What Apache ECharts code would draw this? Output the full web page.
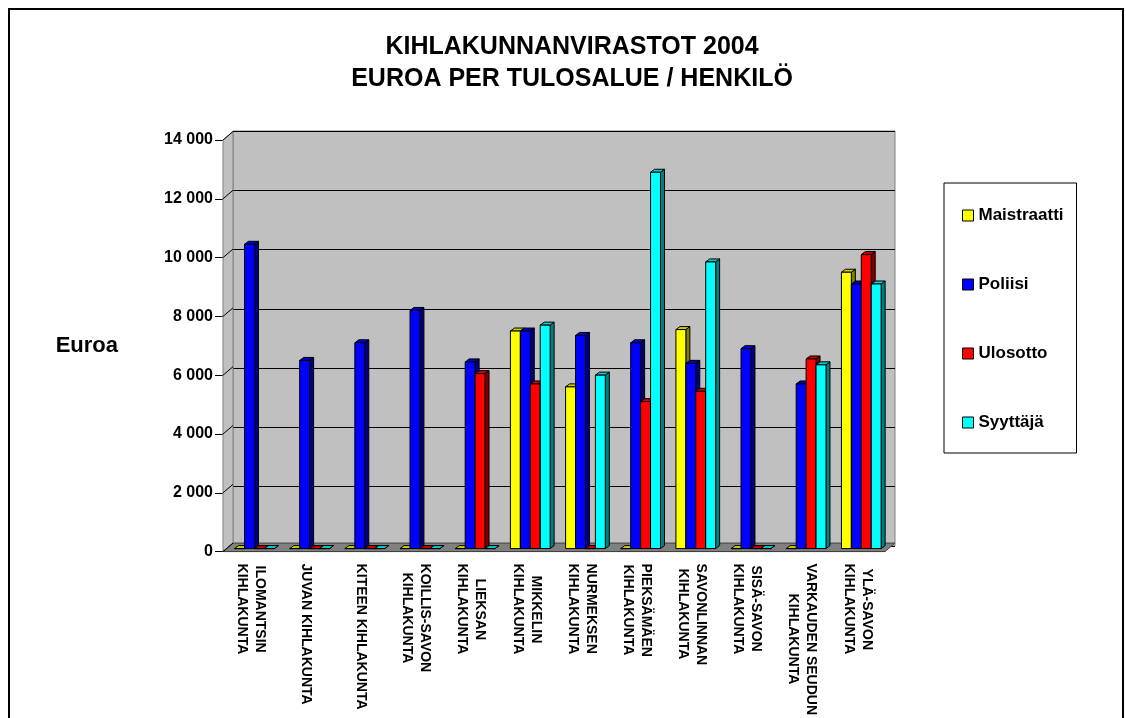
<!DOCTYPE html>
<html>
<head>
<meta charset="utf-8">
<script src="https://cdn.jsdelivr.net/npm/echarts@6/dist/echarts.min.js"></script>
<style>
  html, body { margin: 0; padding: 0; background: #fff; }
  #chart { width: 1126px; height: 718px; }
</style>
</head>
<body>
<div id="chart"></div>
<script>
const categories = [
  'ILOMANTSIN\nKIHLAKUNTA', 'JUVAN KIHLAKUNTA', 'KITEEN KIHLAKUNTA', 'KOILLIS-SAVON\nKIHLAKUNTA',
  'LIEKSAN\nKIHLAKUNTA', 'MIKKELIN\nKIHLAKUNTA', 'NURMEKSEN\nKIHLAKUNTA', 'PIEKSÄMÄEN\nKIHLAKUNTA',
  'SAVONLINNAN\nKIHLAKUNTA', 'SISÄ-SAVON\nKIHLAKUNTA', 'VARKAUDEN SEUDUN\nKIHLAKUNTA', 'YLÄ-SAVON\nKIHLAKUNTA'
];
const seriesNames = ['Maistraatti', 'Poliisi', 'Ulosotto', 'Syyttäjä'];
const maistraatti = [0, 0, 0, 0, 0, 7400, 5500, 0, 7450, 0, 0, 9400];
const poliisi = [10350, 6400, 7000, 8100, 6350, 7400, 7250, 7000, 6300, 6800, 5600, 9000];
const ulosotto = [0, 0, 0, 0, 5950, 5600, 0, 5000, 5350, 0, 6450, 10000];
const syyttaja = [0, 0, 0, 0, 0, 7600, 5900, 12800, 9750, 0, 6250, 9000];
const yMax = 14000;
const yStep = 2000;

const FONT = "'Liberation Sans', Arial, sans-serif";
// front, top, side colours for the 3D look
const colors = [
  ['#ffff00', '#cccc00', '#808000'],
  ['#0000ff', '#0000cc', '#000080'],
  ['#ff0000', '#cc0000', '#800000'],
  ['#00ffff', '#00cccc', '#008080']
];
const values = [maistraatti, poliisi, ulosotto, syyttaja];

const chart = echarts.init(document.getElementById('chart'));

function bar3d(sIdx) {
  return function (params, api) {
    const idx = api.value(0);
    const v = api.value(1);
    const base = api.coord([idx, 0]);
    const top = api.coord([idx, v]);
    const bw = api.size([1, 0])[0];
    const w = bw * 0.18;
    const x0 = base[0] - bw * 0.29 + sIdx * w;
    const y0 = base[1] - 3;
    const y1 = top[1] - 3;
    const dx = 4, dy = 3;
    const c = colors[sIdx];
    return {
      type: 'group',
      children: [
        { type: 'polygon', shape: { points: [[x0 + w, y0], [x0 + w + dx, y0 - dy], [x0 + w + dx, y1 - dy], [x0 + w, y1]] },
          style: { fill: c[2], stroke: '#000', lineWidth: 1 } },
        { type: 'polygon', shape: { points: [[x0, y1], [x0 + dx, y1 - dy], [x0 + w + dx, y1 - dy], [x0 + w, y1]] },
          style: { fill: c[1], stroke: '#000', lineWidth: 1 } },
        { type: 'rect', shape: { x: x0, y: y1, width: w, height: y0 - y1 },
          style: { fill: c[0], stroke: '#000', lineWidth: 1 } }
      ]
    };
  };
}

const fmt = v => String(v).replace(/\B(?=(\d{3})+(?!\d))/g, ' ');

// centre the lines of each rotated category label by padding the shorter one
const ctx = document.createElement('canvas').getContext('2d');
ctx.font = "bold 14px 'Liberation Sans', Arial, sans-serif";
const rich = {};
function labelFmt(v) {
  const lines = v.split('\n');
  const ws = lines.map(l => ctx.measureText(l).width);
  const maxW = Math.max.apply(null, ws);
  return lines.map((l, i) => {
    const p = Math.round((maxW - ws[i]) / 2);
    const key = 'p' + p;
    if (!rich[key]) {
      rich[key] = { padding: [0, 0, 0, p], fontFamily: FONT, fontSize: 14, fontWeight: 'bold', color: '#000', lineHeight: 18 };
    }
    return '{' + key + '|' + l + '}';
  }).join('\n');
}
const labelTexts = categories.map(labelFmt);

chart.setOption({
  animation: false,
  title: {
    text: 'KIHLAKUNNANVIRASTOT 2004\nEUROA PER TULOSALUE / HENKILÖ',
    left: 567, top: 26, textAlign: 'center',
    textStyle: { fontFamily: FONT, fontSize: 25, fontWeight: 'bold', color: '#000', lineHeight: 32 }
  },
  legend: {
    orient: 'vertical',
    left: 944, top: 183,
    backgroundColor: '#fff', borderColor: '#000', borderWidth: 1,
    padding: [24, 13, 22, 18],
    itemGap: 52, itemWidth: 11, itemHeight: 11,
    icon: 'rect',
    textStyle: { fontFamily: FONT, fontSize: 17, fontWeight: 'bold', color: '#000', lineHeight: 16 },
    data: seriesNames.map((n, i) => ({ name: n, itemStyle: { color: colors[i][0], borderColor: '#000', borderWidth: 1 } }))
  },
  grid: [
    { left: 223, right: 241, top: 140, bottom: 163 },
    { left: 233, right: 231, top: 131, bottom: 172, show: true, backgroundColor: '#c0c0c0', borderColor: '#808080', borderWidth: 1 }
  ],
  xAxis: [
    {
      type: 'category', gridIndex: 0, data: categories,
      axisLine: { lineStyle: { color: '#000', width: 1 } },
      axisTick: { length: 8, lineStyle: { color: '#000' } },
      axisLabel: {
        rotate: -90, margin: 12, interval: 0,
        formatter: (v, i) => labelTexts[i],
        rich: rich
      }
    },
    { type: 'category', gridIndex: 1, data: categories, show: false }
  ],
  yAxis: [
    {
      type: 'value', gridIndex: 0, min: 0, max: yMax, interval: yStep,
      name: 'Euroa', nameLocation: 'middle', nameRotate: 0, nameGap: 105,
      nameTextStyle: { fontFamily: FONT, fontSize: 22, fontWeight: 'bold', color: '#000' },
      axisLine: { show: true, lineStyle: { color: '#000' } },
      axisTick: { show: true, length: 8, lineStyle: { color: '#000' } },
      axisLabel: { margin: 10, formatter: fmt, fontFamily: FONT, fontSize: 16, fontWeight: 'bold', color: '#000' },
      splitLine: { show: false }
    },
    {
      type: 'value', gridIndex: 1, min: 0, max: yMax, interval: yStep,
      axisLine: { show: false }, axisTick: { show: false }, axisLabel: { show: false },
      splitLine: { show: true, lineStyle: { color: '#000', width: 1 } }
    }
  ],
  series: values.map((vals, i) => ({
    name: seriesNames[i],
    type: 'custom',
    xAxisIndex: 0, yAxisIndex: 0,
    itemStyle: { color: colors[i][0] },
    renderItem: bar3d(i),
    encode: { x: 0, y: 1 },
    data: vals.map((v, j) => [j, v])
  }))
});

// walls, floor and frame of the 3D box, placed from the axis scales
const bandW = chart.getModel().getComponent('xAxis', 0).axis.getBandWidth();
const fx0 = chart.convertToPixel({ xAxisIndex: 0 }, 0) - bandW / 2;
const fx1 = fx0 + bandW * categories.length;
const fyTop = chart.convertToPixel({ yAxisIndex: 0 }, yMax);
const fyBot = chart.convertToPixel({ yAxisIndex: 0 }, 0);
const ddx = 10, ddy = 8.5;
const graphics = [
  { type: 'rect', z: -10, shape: { x: 9, y: 9, width: 1114, height: 800 }, style: { fill: 'none', stroke: '#000', lineWidth: 2 } },
  { type: 'polygon', z: 1, shape: { points: [[fx0, fyTop], [fx0 + ddx, fyTop - ddy], [fx0 + ddx, fyBot - ddy], [fx0, fyBot]] },
    style: { fill: '#c0c0c0', stroke: '#808080', lineWidth: 1 } },
  { type: 'polygon', z: 1, shape: { points: [[fx0, fyBot], [fx1, fyBot], [fx1 + ddx, fyBot - ddy], [fx0 + ddx, fyBot - ddy]] },
    style: { fill: '#808080', stroke: '#404040', lineWidth: 1 } }
];
for (let v = 0; v <= yMax; v += yStep) {
  const y = chart.convertToPixel({ yAxisIndex: 0 }, v);
  graphics.push({ type: 'line', z: 1, shape: { x1: fx0, y1: y, x2: fx0 + ddx, y2: y - ddy }, style: { stroke: '#000', lineWidth: 1 } });
}
chart.setOption({ graphic: graphics });
</script>
</body>
</html>
